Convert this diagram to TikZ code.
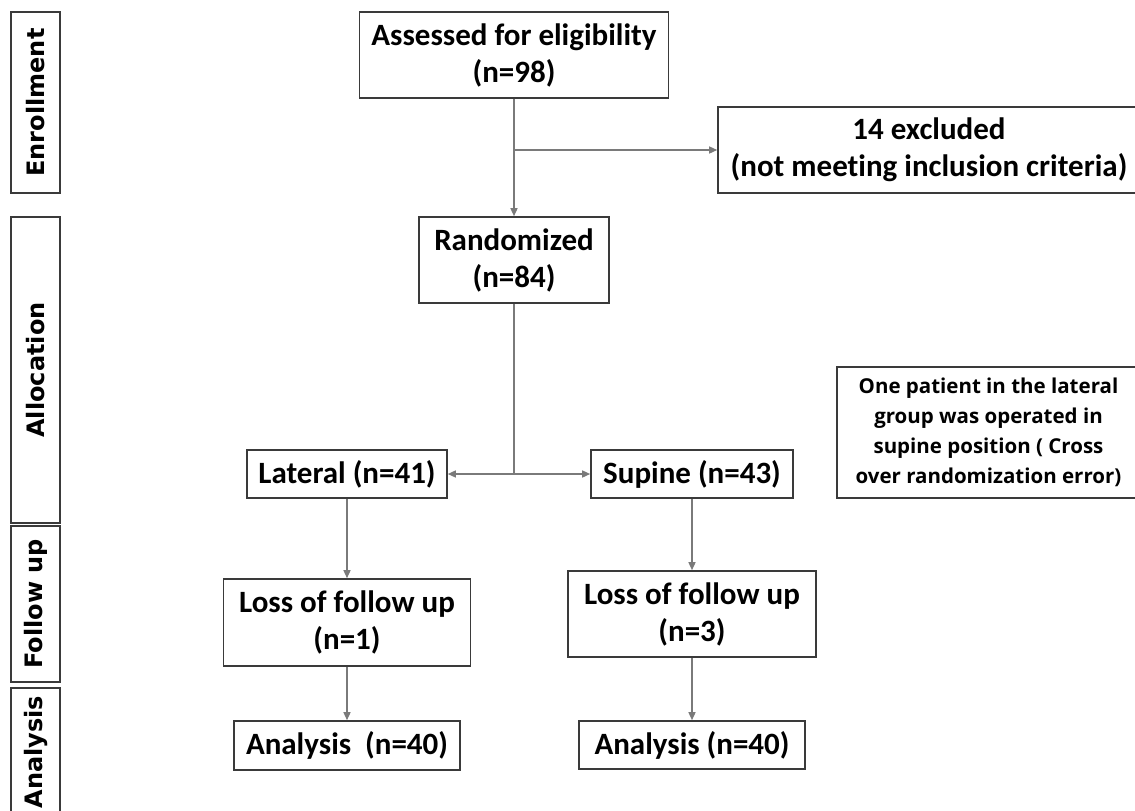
\documentclass[tikz,border=0pt]{standalone}
\usepackage{fontspec}
\usepackage{tikz}
\usetikzlibrary{positioning,arrows.meta}
\newfontfamily\boxfont{Carlito}[Ligatures=NoCommon]
\newfontfamily\sidefont{DejaVu Sans}
\newfontfamily\notefont{Open Sans}
\definecolor{line1}{HTML}{7A7A7A}
\definecolor{frame1}{HTML}{3A3A3A}

\begin{document}
\begin{tikzpicture}[
    x=1pt, y=-1pt,
    >={Triangle[length=8pt,width=7pt]},
    box/.style={draw=frame1, line width=1.6pt, inner sep=0pt, align=center,
                font=\boxfont\bfseries\fontsize{31}{37}\selectfont},
    side/.style={draw=frame1, line width=1.6pt, inner sep=0pt, rotate=90,
                 minimum height=49pt,
                 font=\sidefont\bfseries\fontsize{24}{28}\selectfont},
    note/.style={draw=frame1, line width=1.6pt, inner sep=0pt, align=center,
                 font=\notefont\bfseries\fontsize{20.5}{30}\selectfont},
    link/.style={->, draw=line1, line width=1.4pt},
]
\clip (0,0) rectangle (1135,811);

% Stage labels
\node[side, minimum width=181pt] (enrol) at (35.5,102.5) {Enrollment};
\node[side, minimum width=306pt] (alloc) at (35.5,370) {Allocation};
\node[side, minimum width=156pt] (follow) at (35.5,604) {Follow up};
\node[side, minimum width=128pt] (anal) at (35.5,752) {Analysis};

% Enrollment
\node[box, minimum width=309pt, minimum height=86pt] (assess) at (514,55)
    {Assessed for eligibility\\(n=98)};
\node[box, minimum width=422pt, minimum height=86pt] (excl) at (929,150)
    {14 excluded\\(not meeting inclusion criteria)};
\node[box, minimum width=190pt, minimum height=86pt] (rand) at (514,260)
    {Randomized\\(n=84)};

% Allocation
\node[box, minimum width=200pt, minimum height=48pt] (lat) at (347,474)
    {Lateral (n=41)};
\node[box, minimum width=202pt, minimum height=48pt] (sup) at (692,474)
    {Supine (n=43)};
\node[note, minimum width=303pt, minimum height=131pt] (cross) at (988.5,432.5)
    {One patient in the lateral\\group was operated in\\supine position ( Cross\\over randomization error)};

% Follow up
\node[box, minimum width=247pt, minimum height=87pt] (loss1) at (347,622.5)
    {Loss of follow up\\(n=1)};
\node[box, minimum width=248pt, minimum height=86pt] (loss2) at (692,614)
    {Loss of follow up\\(n=3)};

% Analysis
\node[box, minimum width=226pt, minimum height=49pt] (res1) at (347,745.5)
    {Analysis~~(n=40)};
\node[box, minimum width=226pt, minimum height=48pt] (res2) at (692,745)
    {Analysis (n=40)};

% Connectors
\draw[link] (assess) -- (rand);
\draw[link] (assess.south |- excl.west) -- (excl.west);
\coordinate (split) at (rand.south |- lat.east);
\draw[line1, line width=1.4pt] (rand) -- (split);
\draw[link] (split) -- (lat);
\draw[link] (split) -- (sup);
\draw[link] (lat) -- (loss1);
\draw[link] (loss1) -- (res1);
\draw[link] (sup) -- (loss2);
\draw[link] (loss2) -- (res2);
\end{tikzpicture}
\end{document}
